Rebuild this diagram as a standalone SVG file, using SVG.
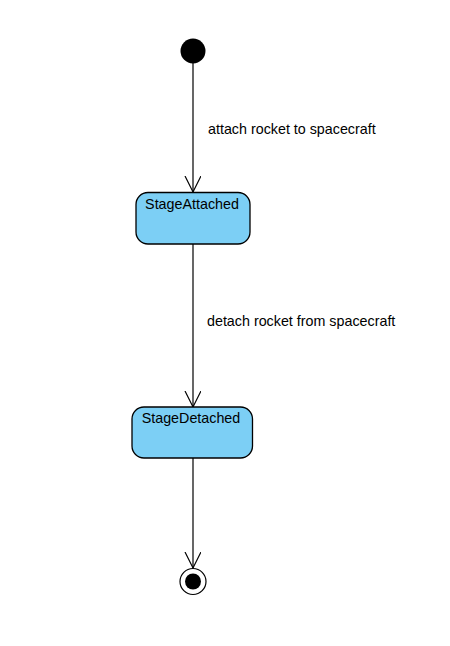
<svg xmlns="http://www.w3.org/2000/svg" width="450" height="646" viewBox="0 0 450 646">
<style>
.state{fill:#7ccff5;stroke:#000;stroke-width:1.3}
.lbl{font-family:"Liberation Sans",Arial,sans-serif;font-size:14.3px;fill:#000}
.edge{stroke:#000;stroke-width:1.2;fill:none}
</style>
<defs>
<marker id="open" markerWidth="20" markerHeight="20" refX="16" refY="8" orient="auto" markerUnits="userSpaceOnUse" viewBox="0 0 20 20">
<path d="M0,0 L16,8 L0,16" fill="none" stroke="#000" stroke-width="1.2"/>
</marker>
</defs>
<rect width="450" height="646" fill="#fff"/>
<g id="connectors">
<line class="edge" x1="193" y1="63" x2="193" y2="192" marker-end="url(#open)"/>
<text class="lbl" x="208" y="133.5">attach rocket to spacecraft</text>
<line class="edge" x1="193" y1="244" x2="193" y2="407" marker-end="url(#open)"/>
<text class="lbl" x="207" y="326">detach rocket from spacecraft</text>
<line class="edge" x1="193" y1="458" x2="193" y2="568" marker-end="url(#open)"/>
</g>
<g id="initial">
<circle cx="193" cy="51" r="12.5" fill="#000"/>
</g>
<g id="StageAttached">
<rect class="state" x="136" y="192.5" width="114" height="51.5" rx="12"/>
<text class="lbl" x="192" y="209" text-anchor="middle">StageAttached</text>
</g>
<g id="StageDetached">
<rect class="state" x="132" y="407" width="120.5" height="51" rx="12"/>
<text class="lbl" x="191" y="422.5" text-anchor="middle">StageDetached</text>
</g>
<g id="final">
<circle cx="193" cy="581.5" r="13" fill="#fff" stroke="#000" stroke-width="1.2"/>
<circle cx="193" cy="581.5" r="8" fill="#000"/>
</g>
</svg>
